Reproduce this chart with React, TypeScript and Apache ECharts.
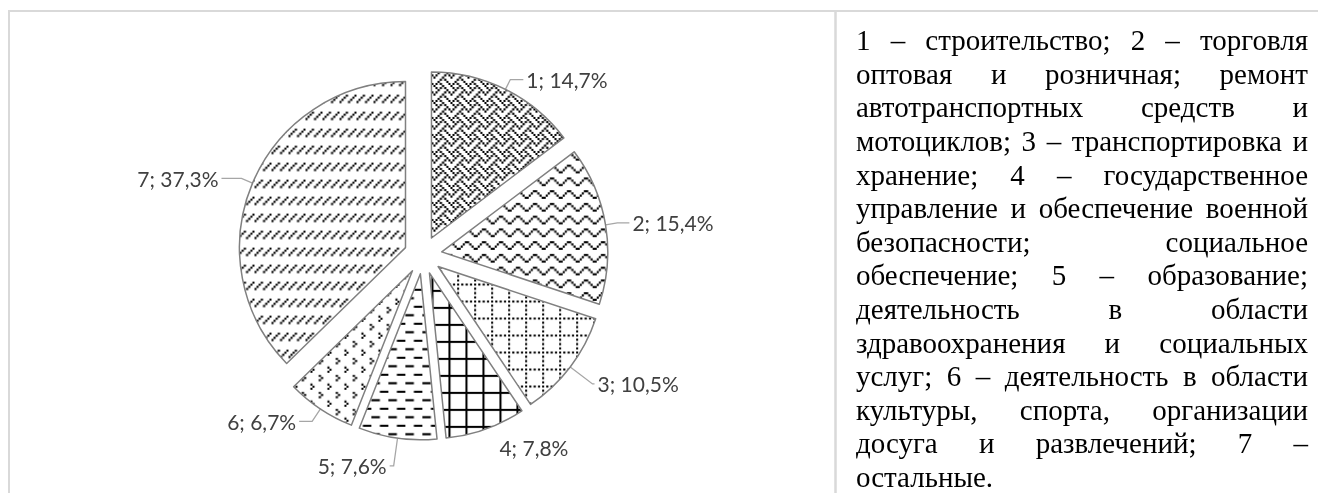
import React, { useEffect, useRef } from "react";
import * as echarts from "echarts";

// ---------- data ----------
const categories = ["1", "2", "3", "4", "5", "6", "7"];
const shares = [14.7, 15.4, 10.5, 7.8, 7.6, 6.7, 37.3];
const legendLines = [
  "1 – строительство; 2 – торговля",
  "оптовая и розничная; ремонт",
  "автотранспортных средств и",
  "мотоциклов; 3 – транспортировка и",
  "хранение; 4 – государственное",
  "управление и обеспечение военной",
  "безопасности; социальное",
  "обеспечение; 5 – образование;",
  "деятельность в области",
  "здравоохранения и социальных",
  "услуг; 6 – деятельность в области",
  "культуры, спорта, организации",
  "досуга и развлечений; 7 –",
  "остальные.",
];

// ---------- styles ----------
const W = 1318;
const H = 493;
const TEXT_LEFT = 856;
const TEXT_RIGHT = 1308;
const TEXT_FS = 29;
const LINE_H = 33.6;
const FIRST_BASELINE = 50;
const SERIF = "Liberation Serif";
const LABEL_FONT = "Lato";

// per slice label line: [length, length2, opacity]
const labelLineCfg: [number, number, number][] = [
  [11, 13, 1],
  [12, 12, 1],
  [28, 2, 1],
  [20, 4, 0],
  [28, 4, 1],
  [15, 13, 1],
  [12, 20, 1],
];

// hatch bitmaps ('#' = black); one unit ≈ 2.125 px
const patterns: string[][] = [
  ["#...#...", ".#.#.#..", "..#...#.", ".#...#.#", "#...#...", "...#.#..", "..#...#.", ".#.#...#"],
  ["........", "..##....", ".#..#...", "#....#..", "......##", "........"],
  ["#.#.#.#.", "........", "#.......", "........", "#.......", "........", "#.......", "........"],
  ["########", "#.......", "#.......", "#.......", "#.......", "#.......", "#.......", "#......."],
  ["........", "........", "........", "####....", "........", "........", "........", "....####"],
  ["........", "...#....", "....#...", "...#....", "........", ".......#", "#.......", ".......#"],
  ["...#...#", "..#...#.", ".#...#..", "#...#...", "........", "........", "........", "........"],
];

const UNIT = 4;
const PATTERN_SCALE = 17 / 8 / UNIT;

function makePattern(rows: string[]) {
  const c = document.createElement("canvas");
  c.width = rows[0].length * UNIT;
  c.height = rows.length * UNIT;
  const ctx = c.getContext("2d")!;
  ctx.fillStyle = "#ffffff";
  ctx.fillRect(0, 0, c.width, c.height);
  ctx.fillStyle = "#000000";
  rows.forEach((r, y) => {
    for (let x = 0; x < r.length; x++) {
      if (r[x] === "#") ctx.fillRect(x * UNIT, y * UNIT, UNIT, UNIT);
    }
  });
  return { image: c, repeat: "repeat", scaleX: PATTERN_SCALE, scaleY: PATTERN_SCALE } as any;
}

function fmt(v: number) {
  return v.toFixed(1).replace(".", ",");
}

function buildLegend() {
  const ctx = document.createElement("canvas").getContext("2d")!;
  ctx.font = `${TEXT_FS}px '${SERIF}'`;
  const els: any[] = [];
  const width = TEXT_RIGHT - TEXT_LEFT;
  const centralShift = TEXT_FS * 0.3375;
  legendLines.forEach((line, i) => {
    const words = line.split(" ");
    const widths = words.map((w) => ctx.measureText(w).width);
    const total = widths.reduce((a, b) => a + b, 0);
    const last = i === legendLines.length - 1;
    const gap = last || words.length < 2 ? ctx.measureText(" ").width : (width - total) / (words.length - 1);
    let x = TEXT_LEFT;
    const y = FIRST_BASELINE + i * LINE_H - centralShift;
    words.forEach((w, j) => {
      els.push({
        type: "text",
        x,
        y,
        style: {
          text: w,
          fill: "#000",
          verticalAlign: "middle",
          fontSize: TEXT_FS,
          fontFamily: SERIF,
          fontWeight: "normal",
          fontStyle: "normal",
        },
      });
      x += widths[j] + gap;
    });
  });
  return els;
}

export default function App() {
  const ref = useRef<HTMLDivElement>(null);
  useEffect(() => {
    if (!ref.current) return;
    const chart = echarts.init(ref.current, undefined, { renderer: "svg" });
    const borderColor = "#d9d9d9";
    const sliceStyle = { borderColor: "#808080", borderWidth: 1.5 };
    const option: any = {
      animation: false,
      graphic: [
        { type: "line", shape: { x1: 8, y1: 11, x2: W, y2: 11 }, style: { stroke: borderColor, lineWidth: 2 }, silent: true },
        { type: "line", shape: { x1: 9, y1: 10, x2: 9, y2: H }, style: { stroke: borderColor, lineWidth: 2 }, silent: true },
        { type: "line", shape: { x1: 835.5, y1: 10, x2: 835.5, y2: H }, style: { stroke: borderColor, lineWidth: 2.5 }, silent: true },
        ...buildLegend(),
      ],
      series: [
        {
          type: "pie",
          center: [423, 255],
          radius: 166,
          startAngle: 90,
          clockwise: true,
          selectedMode: "multiple",
          selectedOffset: 19,
          avoidLabelOverlap: false,
          itemStyle: sliceStyle,
          label: {
            show: true,
            position: "outside",
            formatter: (p: any) => `${p.name}; ${fmt(p.value)}%`,
            fontFamily: LABEL_FONT,
            fontSize: 21,
            color: "#404040",
            distanceToLabelLine: 3,
          },
          labelLine: { show: true, lineStyle: { color: "#a6a6a6", width: 1.3 } },
          emphasis: { disabled: true },
          select: { itemStyle: sliceStyle, label: { color: "#404040" } },
          data: categories.map((c, i) => ({
            name: c,
            value: shares[i],
            selected: true,
            itemStyle: { color: makePattern(patterns[i]) },
            select: { itemStyle: { color: makePattern(patterns[i]) } },
            labelLine: {
              length: labelLineCfg[i][0],
              length2: labelLineCfg[i][1],
              lineStyle: { opacity: labelLineCfg[i][2] },
            },
          })),
        },
      ],
    };
    chart.setOption(option);
    return () => chart.dispose();
  }, []);
  return <div ref={ref} style={{ position: "fixed", left: 0, top: 0, width: W, height: H }} />;
}
